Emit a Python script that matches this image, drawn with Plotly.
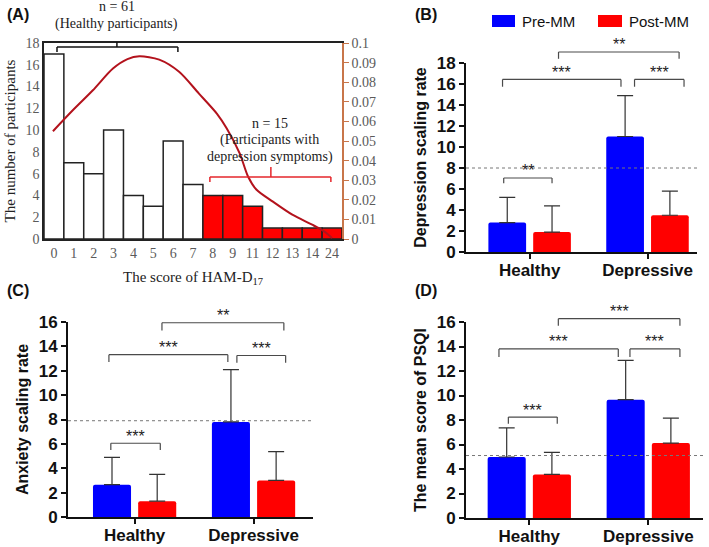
import plotly.graph_objects as go

W, H = 709, 547

# ---------------- data ----------------
# Panel A: histogram of HAM-D17 scores
scores = ["0", "1", "2", "3", "4", "5", "6", "7", "8", "9", "11", "12", "13", "14", "24"]
counts = [17, 7, 6, 10, 4, 3, 9, 5, 4, 4, 3, 1, 1, 1, 1]
cutoff_score = 8
# density curve (position in bar index units, density on right axis)
curve_pos = [-0.05, 0.96, 1.96, 2.97, 3.7, 4.3, 5.3, 6.3, 7.3, 8.2, 8.7, 9.35, 9.77, 10.2, 11.0, 12.0, 13.0, 13.6, 14.0]
curve_density = [0.055, 0.0658, 0.0759, 0.087, 0.0918, 0.0932, 0.0915, 0.0853, 0.0742, 0.0640, 0.0564, 0.0437, 0.0319, 0.0251, 0.0192, 0.0124, 0.0073, 0.0039, 0.0005]

groups = ["Healthy", "Depressive"]
series_names = ["Pre-MM", "Post-MM"]

# Panel B: depression scaling rate
dep_pre = [2.8, 11.0]
dep_pre_sd = [2.4, 3.9]
dep_post = [1.9, 3.5]
dep_post_sd = [2.5, 2.3]
dep_cut = 8.0

# Panel C: anxiety scaling rate
anx_pre = [2.65, 7.8]
anx_pre_sd = [2.25, 4.3]
anx_post = [1.3, 3.0]
anx_post_sd = [2.2, 2.37]
anx_cut = 7.9

# Panel D: PSQI
psqi_pre = [4.98, 9.66]
psqi_pre_sd = [2.37, 3.2]
psqi_post = [3.56, 6.12]
psqi_post_sd = [1.8, 2.04]
psqi_cut = 5.1

# ---------------- styling ----------------
SERIF = "Liberation Serif"
SANS = "Liberation Sans"
BLUE = "#0000ff"
RED = "#ff0000"
ORANGE = "#c8764a"
GRAY_TXT = "#5a5a5a"
BRK = "#4a4a4a"


def px_dom_x(a, b):
    return [a / W, b / W]


def px_dom_y(top, bottom):
    return [1 - bottom / H, 1 - top / H]


fig = go.Figure()

# ---- Panel A ----
idx = list(range(len(scores)))
bar_colors = [RED if int(s) >= cutoff_score else "white" for s in scores]
fig.add_trace(go.Bar(x=idx, y=counts, width=1.0,
                     marker=dict(color=bar_colors, line=dict(color="#222222", width=1.5)),
                     xaxis="x", yaxis="y", showlegend=False, hoverinfo="skip"))
fig.add_trace(go.Scatter(x=curve_pos, y=curve_density, mode="lines",
                         line=dict(color="#b3121c", width=2, shape="spline", smoothing=0.8),
                         xaxis="x", yaxis="y2", showlegend=False, hoverinfo="skip"))

# ---- Bar panels ----
panels = [
    dict(xa="x2", ya="y3", pre=dep_pre, pre_sd=dep_pre_sd, post=dep_post, post_sd=dep_post_sd, cut=dep_cut,
         xr=[-0.54, 1.42], yr=[0, 18],
         brackets=[(-0.22, 0.19, 7.05, 0.5, "**"), (-0.23, 0.775, 16.44, 0.7, "***"),
                   (0.89, 1.31, 16.44, 0.7, "***"), (0.245, 1.268, 19.05, 0.65, "**")]),
    dict(xa="x3", ya="y4", pre=anx_pre, pre_sd=anx_pre_sd, post=anx_post, post_sd=anx_post_sd, cut=anx_cut,
         xr=[-0.56, 1.5], yr=[0, 16],
         brackets=[(-0.2, 0.216, 6.05, 0.55, "***"), (-0.216, 0.784, 13.32, 0.6, "***"),
                   (0.86, 1.27, 13.25, 0.6, "***"), (0.23, 1.255, 15.94, 0.63, "**")]),
    dict(xa="x4", ya="y5", pre=psqi_pre, pre_sd=psqi_pre_sd, post=psqi_post, post_sd=psqi_post_sd, cut=psqi_cut,
         xr=[-0.532, 1.46], yr=[0, 16],
         brackets=[(-0.176, 0.235, 8.24, 0.55, "***"), (-0.255, 0.748, 13.8, 0.65, "***"),
                   (0.846, 1.266, 13.8, 0.65, "***"), (0.244, 1.266, 16.27, 0.57, "***")]),
]

gpos = list(range(len(groups)))
for p in panels:
    for vals, sds, col, off, name in [(p["pre"], p["pre_sd"], BLUE, -0.35, series_names[0]),
                                      (p["post"], p["post_sd"], RED, 0.03, series_names[1])]:
        fig.add_trace(go.Bar(x=gpos, y=vals, width=0.32, offset=off, name=name,
                             marker=dict(color=col, line=dict(width=0), cornerradius=2),
                             error_y=dict(type="data", array=sds, arrayminus=[0] * len(sds), symmetric=False,
                                          color="#333333", thickness=1.2, width=8),
                             xaxis=p["xa"], yaxis=p["ya"], showlegend=False, hoverinfo="skip"))

shapes = []
annotations = []


def to_dom(xr, yr, x, y):
    return (x - xr[0]) / (xr[1] - xr[0]), (y - yr[0]) / (yr[1] - yr[0])


def line_dom(xa, ya, xr, yr, x0, y0, x1, y1, color, width, dash="solid"):
    a = to_dom(xr, yr, x0, y0)
    b = to_dom(xr, yr, x1, y1)
    shapes.append(dict(type="line", xref=xa + " domain", yref=ya + " domain",
                       x0=a[0], y0=a[1], x1=b[0], y1=b[1], line=dict(color=color, width=width, dash=dash)))


def text_dom(xa, ya, xr, yr, x, y, text, font, yanchor="middle", yshift=0):
    d = to_dom(xr, yr, x, y)
    annotations.append(dict(xref=xa + " domain", yref=ya + " domain", x=d[0], y=d[1], text=text,
                            showarrow=False, font=font, xanchor="center", yanchor=yanchor, yshift=yshift))


for p in panels:
    xr, yr = p["xr"], p["yr"]
    shapes.append(dict(type="line", xref=p["xa"] + " domain", yref=p["ya"], x0=0, x1=1,
                       y0=p["cut"], y1=p["cut"], line=dict(color="#777777", width=1, dash="dot")))
    for (x0, x1, y, d, lab) in p["brackets"]:
        line_dom(p["xa"], p["ya"], xr, yr, x0, y - d, x0, y, BRK, 1.2)
        line_dom(p["xa"], p["ya"], xr, yr, x0, y, x1, y, BRK, 1.2)
        line_dom(p["xa"], p["ya"], xr, yr, x1, y, x1, y - d, BRK, 1.2)
        text_dom(p["xa"], p["ya"], xr, yr, (x0 + x1) / 2, y, lab,
                 dict(family=SANS, size=16, color="#222222"), yanchor="middle", yshift=7)

# Panel A brackets and texts
axr, ayr = [-0.5, 14.5], [0, 18]
line_dom("x", "y", axr, ayr, 0.154, 17.17, 0.154, 17.63, "#111111", 1.5)
line_dom("x", "y", axr, ayr, 0.154, 17.63, 6.24, 17.63, "#111111", 1.5)
line_dom("x", "y", axr, ayr, 6.24, 17.63, 6.24, 17.17, "#111111", 1.5)
line_dom("x", "y", axr, ayr, 3.17, 17.63, 3.17, 18.09, "#111111", 1.5)
line_dom("x", "y", axr, ayr, 7.85, 5.23, 7.85, 5.69, "#e5262b", 1.5)
line_dom("x", "y", axr, ayr, 7.85, 5.69, 13.94, 5.69, "#e5262b", 1.5)
line_dom("x", "y", axr, ayr, 13.94, 5.69, 13.94, 5.23, "#e5262b", 1.5)
line_dom("x", "y", axr, ayr, 10.92, 5.69, 10.92, 6.61, "#e5262b", 1.5)
serif_font = dict(family=SERIF, size=14, color="#222222")
text_dom("x", "y", axr, ayr, 3.17, 21.35, "n = 61", serif_font)
text_dom("x", "y", axr, ayr, 3.17, 19.7, "(Healthy participants)", serif_font)
text_dom("x", "y", axr, ayr, 10.87, 10.65, "n = 15", serif_font)
text_dom("x", "y", axr, ayr, 10.87, 9.09, "(Participants with", serif_font)
text_dom("x", "y", axr, ayr, 10.87, 7.53, "depression symptoms)", serif_font)

# panel labels
for lab, x, y in [("(A)", 18, 14), ("(B)", 426, 15), ("(C)", 18, 290), ("(D)", 426, 290)]:
    annotations.append(dict(xref="paper", yref="paper", x=x / W, y=1 - y / H, text=lab, showarrow=False,
                            xanchor="center", yanchor="middle",
                            font=dict(family=SANS, size=16, color="#111111", weight="bold")))

# legend (manual)
for (x0, x1, col, name) in [(492, 515, BLUE, series_names[0]), (598, 622, RED, series_names[1])]:
    shapes.append(dict(type="rect", xref="paper", yref="paper", x0=x0 / W, x1=x1 / W,
                       y0=1 - 27 / H, y1=1 - 15 / H, fillcolor=col, line=dict(width=0)))
    annotations.append(dict(xref="paper", yref="paper", x=(x1 + 5) / W, y=1 - 21 / H, text=name,
                            showarrow=False, xanchor="left", yanchor="middle",
                            font=dict(family=SANS, size=15, color="#111111")))

bold_tick = dict(family=SANS, size=17, color="#111111", weight="bold")
bold_title = dict(family=SANS, size=16, color="#111111", weight="bold")


def bar_xaxis(dom_px, anchor, xr):
    return dict(domain=px_dom_x(*dom_px), anchor=anchor, range=xr, tickvals=gpos, ticktext=groups,
                showline=True, linecolor="#111111", linewidth=2, ticks="outside", ticklen=5, tickwidth=1.5,
                tickcolor="#111111", tickfont=bold_tick, ticklabelstandoff=-3,
                showgrid=False, zeroline=False, automargin=False)


def bar_yaxis(dom_py, anchor, yr, title):
    return dict(domain=px_dom_y(*dom_py), anchor=anchor, range=yr, dtick=2, showline=True,
                linecolor="#111111", linewidth=2, ticks="outside", ticklen=5, tickwidth=1.5,
                tickcolor="#111111", tickfont=bold_tick, showgrid=False, zeroline=False,
                title=dict(text=title, font=bold_title, standoff=6), automargin=False)


fig.update_layout(
    width=W, height=H, autosize=False, margin=dict(l=0, r=0, t=0, b=0),
    template="none", paper_bgcolor="white", plot_bgcolor="rgba(0,0,0,0)",
    showlegend=False, shapes=shapes, annotations=annotations,
    xaxis=dict(domain=px_dom_x(44, 342), anchor="y", range=axr, tickvals=idx, ticktext=scores,
               showline=True, linecolor="#222222", linewidth=1.5, mirror=True, ticks="",
               tickfont=dict(family=SERIF, size=14, color=GRAY_TXT), showgrid=False, zeroline=False,
               title=dict(text="The score of HAM-D<sub>17</sub>", font=dict(family=SERIF, size=15, color="#222222"),
                          standoff=12), automargin=False),
    yaxis=dict(domain=px_dom_y(43, 239), anchor="x", range=ayr, dtick=2, showline=True,
               linecolor="#222222", linewidth=1.5, ticks="", showgrid=False, zeroline=False,
               tickfont=dict(family=SERIF, size=14, color=GRAY_TXT),
               title=dict(text="The number of participants", font=dict(family=SERIF, size=15, color="#222222"),
                          standoff=6), automargin=False),
    yaxis2=dict(overlaying="y", anchor="x", side="right", range=[0, 0.1], dtick=0.01, showline=True,
                linecolor=ORANGE, linewidth=1.5, ticks="outside", ticklen=5, tickcolor=ORANGE,
                tickfont=dict(family=SERIF, size=14, color=GRAY_TXT), showgrid=False, zeroline=False,
                automargin=False),
    xaxis2=bar_xaxis((466, 697), "y3", panels[0]["xr"]),
    yaxis3=bar_yaxis((63, 252), "x2", panels[0]["yr"], "Depression scaling rate"),
    xaxis3=bar_xaxis((68, 313), "y4", panels[1]["xr"]),
    yaxis4=bar_yaxis((322, 517), "x3", panels[1]["yr"], "Anxiety scaling rate"),
    xaxis4=bar_xaxis((466, 703), "y5", panels[2]["xr"]),
    yaxis5=bar_yaxis((322, 518), "x4", panels[2]["yr"], "The mean score of PSQI"),
)

fig.write_html("out.html", config={"displayModeBar": False},
               post_script="document.body.style.margin='0px';document.body.style.overflow='hidden';")
